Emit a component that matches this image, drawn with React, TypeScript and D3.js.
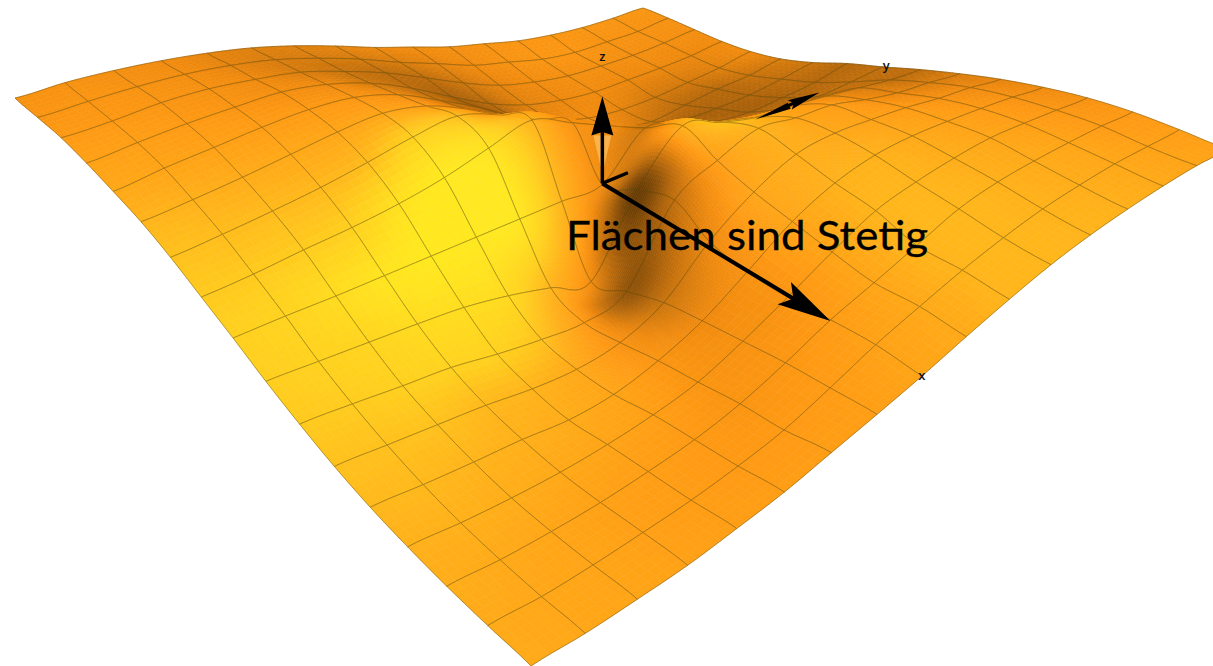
import React, { useEffect, useRef } from 'react';
import * as d3 from 'd3';

const WIDTH = 1213;
const HEIGHT = 666;

// mesh lines of the surface, both directions
const gridX = d3.range(0, 17);
const gridY = d3.range(0, 17);

// height of the surface at each mesh node
const surfaceHeights = [
  [0, 8, 13, 16, 17, 16, 12, 6, -1, -6, -11, -13, -15, -14, -11, -6, 0],
  [7, 14, 20, 24, 25, 23, 17, 9, -1, -9, -17, -20, -23, -22, -17, -12, -4],
  [14, 20, 28, 32, 32, 30, 22, 12, -1, -14, -24, -28, -29, -26, -22, -16, -9],
  [17, 25, 32, 37, 41, 38, 29, 14, -4, -20, -30, -34, -34, -30, -26, -21, -14],
  [18, 27, 34, 41, 46, 46, 37, 20, 2, -18, -31, -39, -40, -37, -31, -25, -17],
  [18, 24, 31, 39, 47, 52, 46, 30, 11, -5, -20, -35, -40, -34, -28, -24, -17],
  [14, 19, 25, 32, 41, 51, 57, 44, 25, 8, -9, -22, -26, -26, -24, -19, -13],
  [7, 10, 15, 19, 25, 34, 47, 59, 41, 23, 7, -4, -14, -18, -16, -13, -6],
  [0, 0, -1, -1, -1, -1, -1, -1, -1, 39, 24, 14, 3, -1, -4, -3, -1],
  [-8, -12, -16, -20, -25, -34, -46, -59, 14, 60, 46, 34, 29, 23, 16, 9, 5],
  [-14, -20, -27, -33, -43, -51, -56, -46, 25, 45, 58, 50, 45, 33, 23, 17, 10],
  [-18, -25, -32, -39, -48, -53, -50, -33, 6, 34, 51, 52, 46, 39, 30, 23, 14],
  [-19, -27, -34, -40, -48, -49, -41, -26, -1, 26, 42, 48, 46, 40, 33, 25, 16],
  [-17, -26, -33, -38, -40, -39, -34, -20, -2, 18, 35, 40, 41, 39, 32, 24, 16],
  [-13, -22, -28, -32, -33, -32, -26, -14, 1, 11, 22, 33, 35, 32, 27, 21, 13],
  [-7, -16, -21, -24, -26, -25, -21, -10, 3, 12, 20, 25, 27, 25, 21, 14, 7],
  [0, -8, -13, -17, -17, -16, -11, -6, 0, 8, 15, 20, 21, 19, 15, 9, 0],
];

// brightness of the lit surface at each mesh node (0 dark, 1 bright yellow)
const surfaceLight = [
  [.5, .5, .48, .46, .42, .4, .4, .42, .44, .46, .48, .5, .52, .52, .52, .52, .52],
  [.52, .52, .5, .47, .42, .38, .37, .37, .38, .42, .46, .5, .52, .52, .5, .5, .5],
  [.55, .54, .52, .49, .45, .38, .33, .3, .3, .35, .42, .46, .48, .48, .48, .48, .48],
  [.6, .58, .55, .52, .48, .45, .36, .3, .24, .28, .4, .44, .46, .44, .44, .44, .46],
  [.65, .62, .6, .57, .55, .52, .46, .34, .24, .28, .42, .46, .42, .36, .36, .4, .45],
  [.72, .7, .67, .65, .63, .62, .56, .38, .3, .36, .5, .46, .34, .28, .28, .33, .38],
  [.78, .76, .75, .74, .76, .85, .75, .45, .42, .45, .5, .33, .24, .24, .26, .3, .33],
  [.82, .82, .83, .85, .95, 1, .95, .7, .5, .5, .42, .33, .28, .24, .24, .27, .27],
  [.85, .87, .92, .97, 1, 1, .98, .72, .45, .36, .38, .36, .35, .34, .3, .3, .3],
  [.84, .86, .88, .92, .93, .9, .72, .46, .08, .68, .76, .66, .52, .42, .36, .3, .3],
  [.82, .83, .85, .86, .85, .78, .55, .18, .3, .58, .7, .62, .56, .48, .42, .38, .38],
  [.78, .78, .78, .74, .72, .65, .5, .33, .44, .62, .68, .64, .6, .55, .5, .45, .42],
  [.74, .74, .72, .7, .67, .62, .52, .45, .5, .62, .7, .7, .65, .6, .55, .5, .45],
  [.7, .7, .68, .65, .62, .58, .52, .5, .52, .62, .72, .72, .68, .63, .58, .53, .5],
  [.68, .66, .63, .6, .58, .55, .52, .53, .56, .63, .72, .73, .7, .66, .62, .56, .54],
  [.66, .64, .62, .59, .57, .55, .55, .56, .6, .65, .72, .73, .71, .68, .64, .6, .57],
  [.66, .64, .62, .6, .58, .57, .57, .58, .62, .66, .72, .73, .72, .7, .66, .62, .6],
];

const lightStops = [0, 0.25, 0.45, 0.55, 0.7, 0.85, 1];
const lightColors = ['#4a2a00', '#b0640a', '#f08a0e', '#ff9a14', '#ffb01a', '#ffd01f', '#ffe820'];

// camera: where the four corners of the patch land and how far away they are
const cornerScreenX = [15, 531, 643, 1228];
const cornerScreenY = [98, 666, 8, 149];
const cornerDepth = [1, 0.732, 1.343, 0.935];

const headline = 'Flächen sind Stetig';

const bilerp = (c: number[], u: number, v: number) =>
  c[0] * (1 - u) * (1 - v) + c[1] * u * (1 - v) + c[2] * (1 - u) * v + c[3] * u * v;

// cubic through the mesh values, so the surface stays smooth between nodes
const cubic = (a: number, b: number, c: number, d: number, t: number) =>
  0.5 * (2 * b + (c - a) * t + (2 * a - 5 * b + 4 * c - d) * t * t + (3 * b - a - 3 * c + d) * t * t * t);

const sample = (table: number[][], fi: number, fj: number) => {
  const last = table.length - 1;
  const i = Math.min(Math.floor(fi), last - 1);
  const j = Math.min(Math.floor(fj), last - 1);
  const clamp = (k: number) => Math.max(0, Math.min(last, k));
  const rows = [-1, 0, 1, 2].map((di) => {
    const r = table[clamp(i + di)];
    return cubic(r[clamp(j - 1)], r[j], r[j + 1], r[clamp(j + 2)], fj - j);
  });
  return cubic(rows[0], rows[1], rows[2], rows[3], fi - i);
};

const App = () => {
  const svgRef = useRef<SVGSVGElement | null>(null);

  useEffect(() => {
    if (!svgRef.current) return;
    const svg = d3.select(svgRef.current);
    svg.selectAll('*').remove();

    const uScale = d3.scaleLinear().domain([0, gridX.length - 1]).range([0, 1]);
    const vScale = d3.scaleLinear().domain([0, gridY.length - 1]).range([0, 1]);
    const zScale = d3.scaleLinear().domain([-60, 60]).range([60, -60]);
    const color = d3.scaleLinear<string>().domain(lightStops).range(lightColors).interpolate(d3.interpolateRgb).clamp(true);

    const xw = cornerScreenX.map((c, k) => c * cornerDepth[k]);
    const yw = cornerScreenY.map((c, k) => c * cornerDepth[k]);

    // i, j in mesh units, z in height units
    const project = (i: number, j: number, z: number): [number, number] => {
      const u = uScale(i);
      const v = vScale(j);
      const w = bilerp(cornerDepth, u, v);
      const bx = bilerp(xw, u, v) / w;
      const by = bilerp(yw, u, v) / w;
      const dz = zScale(z);
      // verticals converge a little in the perspective
      return [bx - (dz * (bx - 450)) / 2000, by + dz];
    };

    const surfacePoint = (fi: number, fj: number) => project(fi, fj, sample(surfaceHeights, fi, fj));

    const cells: { i: number; j: number; depth: number }[] = [];
    for (let i = 0; i < gridX.length - 1; i++) {
      for (let j = 0; j < gridY.length - 1; j++) {
        const depth = bilerp(cornerDepth, uScale(i + 0.5), vScale(j + 0.5));
        cells.push({ i, j, depth });
      }
    }
    cells.sort((a, b) => b.depth - a.depth);

    const line = d3.line();
    const surface = svg.append('g');

    cells.forEach(({ i, j }) => {
      // the walls of the well are steep, they need a finer mesh
      const steep = i >= 5 && i <= 11 && j >= 5 && j <= 11;
      const n = steep ? 18 : 6;
      const g = surface.append('g');
      const pts = d3.range(n + 1).map((a) =>
        d3.range(n + 1).map((b) => surfacePoint(i + a / n, j + b / n))
      );
      for (let a = 0; a < n; a++) {
        for (let b = 0; b < n; b++) {
          const c = color(sample(surfaceLight, i + (a + 0.5) / n, j + (b + 0.5) / n));
          g.append('path')
            .attr('d', line([pts[a][b], pts[a + 1][b], pts[a + 1][b + 1], pts[a][b + 1]]) + 'Z')
            .attr('fill', c)
            .attr('stroke', c)
            .attr('stroke-width', 0.6);
        }
      }
      const border = [
        ...pts[0],
        ...pts.map((r) => r[n]),
        ...[...pts[n]].reverse(),
        ...pts.map((r) => r[0]).reverse(),
      ];
      g.append('path')
        .attr('d', line(border) + 'Z')
        .attr('fill', 'none')
        .attr('stroke', '#5a4a10')
        .attr('stroke-opacity', 0.62)
        .attr('stroke-width', 0.7);
    });

    // axes are drawn on the flat patch through the middle of the well
    const origin = project(8, 8, 0);
    const axes = svg.append('g');

    const arrow = (from: [number, number], to: [number, number], shaft: number, headLen: number, headHalf: number, notch: number) => {
      const dx = to[0] - from[0];
      const dy = to[1] - from[1];
      const len = Math.hypot(dx, dy);
      const ux = dx / len;
      const uy = dy / len;
      const px = -uy;
      const py = ux;
      const back = (d: number, s: number): [number, number] => [to[0] - ux * d + px * s, to[1] - uy * d + py * s];
      const pts: [number, number][] = [
        [from[0] + (px * shaft) / 2, from[1] + (py * shaft) / 2],
        back(headLen - notch, shaft / 2),
        back(headLen, headHalf),
        to,
        back(headLen, -headHalf),
        back(headLen - notch, -shaft / 2),
        [from[0] - (px * shaft) / 2, from[1] - (py * shaft) / 2],
      ];
      axes.append('path').attr('d', line(pts) + 'Z').attr('fill', '#000');
    };

    const zTip: [number, number] = [origin[0], origin[1] + zScale(87)];

    // pale wedge under the z arrow
    axes.append('path')
      .attr('d', line([[origin[0] - 9, zTip[1] + 39], [origin[0] + 9, zTip[1] + 39], [origin[0] + 1, origin[1] - 14], [origin[0] - 1, origin[1] - 14]]) + 'Z')
      .attr('fill', '#ffd27a')
      .attr('fill-opacity', 0.55);

    arrow(origin, zTip, 3.5, 39, 11, 3);
    arrow(origin, project(14, 8, 0), 4, 54, 13, 9);
    arrow(origin, project(8, 8.65, 0), 3.5, 0.1, 1.7, 0);

    // the far end of the y axis, foreshortened where it comes out behind the rim
    const yTail = project(8, 12.1, 0);
    const yMid = project(8, 13.05, 0);
    axes.append('path')
      .attr('d', line([yTail, [yMid[0], yMid[1] - 3], [yMid[0] + 3, yMid[1] + 3]]) + 'Z')
      .attr('fill', '#000');
    arrow(yMid, project(8, 14, 0), 3, 32, 5, 3);

    const labelFont = '"Open Sans", sans-serif';
    const xLabel = project(16, 8, 0);
    const yLabel = project(8, 16, 0);
    svg.append('text').attr('x', xLabel[0]).attr('y', xLabel[1] + 4).attr('text-anchor', 'middle')
      .attr('font-family', labelFont).attr('font-size', 13).attr('font-weight', 600).attr('fill', '#111').text('x');
    svg.append('text').attr('x', yLabel[0] + 3).attr('y', yLabel[1] + 4).attr('text-anchor', 'middle')
      .attr('font-family', labelFont).attr('font-size', 13).attr('font-weight', 600).attr('fill', '#111').text('y');
    svg.append('text').attr('x', origin[0]).attr('y', origin[1] + zScale(122)).attr('text-anchor', 'middle')
      .attr('font-family', labelFont).attr('font-size', 13).attr('font-weight', 600).attr('fill', '#111').text('z');

    svg.append('text')
      .attr('x', 566)
      .attr('y', 250)
      .attr('font-family', 'Lato, sans-serif')
      .attr('font-size', 41)
      .attr('textLength', 362)
      .attr('lengthAdjust', 'spacingAndGlyphs')
      .attr('fill', '#000')
      .attr('stroke', '#000')
      .attr('stroke-width', 0.3)
      .text(headline);
  }, []);

  return (
    <svg
      ref={svgRef}
      width={WIDTH}
      height={HEIGHT}
      style={{ position: 'absolute', left: 0, top: 0, background: '#fff', display: 'block' }}
    />
  );
};

export default App;
